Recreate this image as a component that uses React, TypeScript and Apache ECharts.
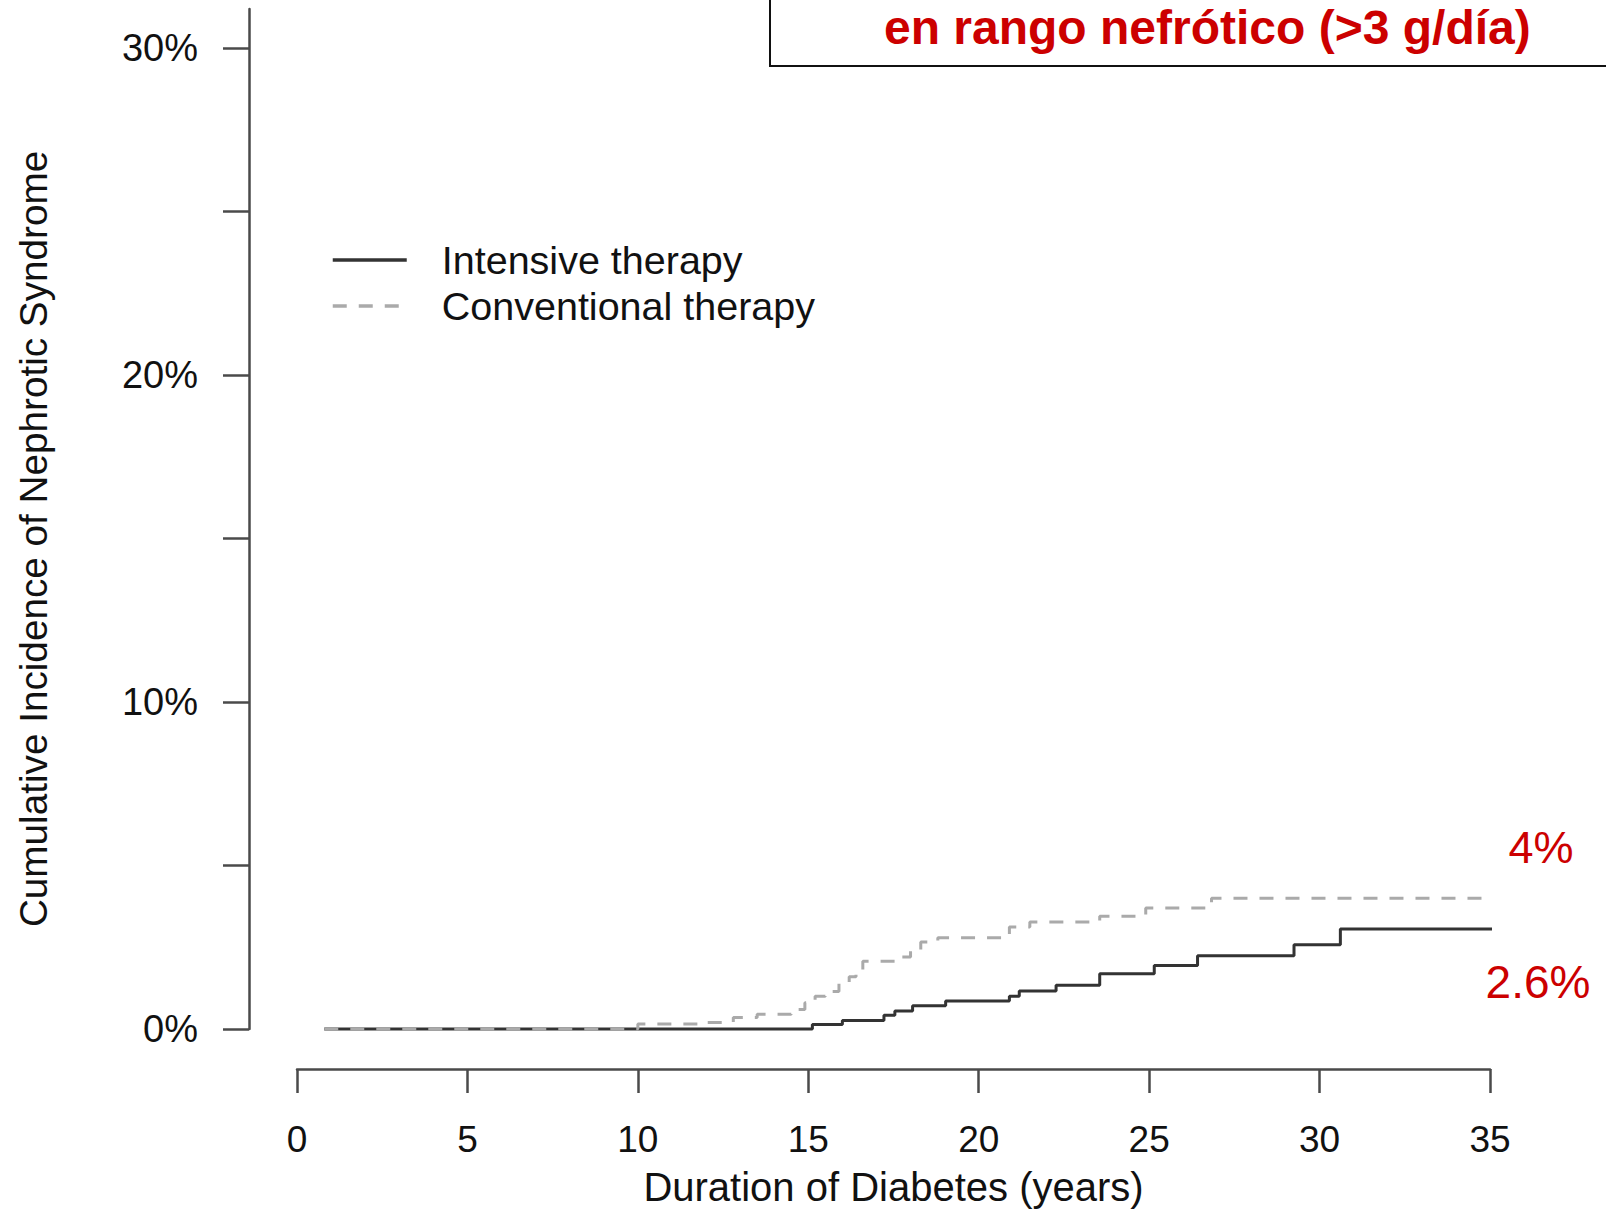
import React, { useEffect, useRef } from "react";
import * as echarts from "echarts";

const titleText = "en rango nefrótico (>3 g/día)";
const seriesNames = ["Intensive therapy", "Conventional therapy"];
const xAxisTitle = "Duration of Diabetes (years)";
const yAxisTitle = "Cumulative Incidence of Nephrotic Syndrome";
const yTickValues = [0, 5, 10, 15, 20, 25, 30];
const yLabelValues = [0, 10, 20, 30];
const endLabels = ["2.6%", "4%"];

const intensiveYears = [0.8, 15.12, 16.0, 17.22, 17.54, 18.06, 19.03, 20.9, 21.19, 22.27, 23.55, 25.15, 26.42, 29.25, 30.61, 36.4];
const intensivePct = [0, 0.14, 0.26, 0.42, 0.55, 0.71, 0.86, 1.0, 1.16, 1.34, 1.69, 1.94, 2.24, 2.58, 3.06, 3.06];

const conventionalYears = [0.8, 10.0, 12.0, 12.8, 13.5, 14.5, 14.9, 15.2, 15.5, 15.9, 16.2, 16.4, 16.6, 17.6, 18.0, 18.3, 18.8, 20.9, 21.5, 23.55, 24.9, 26.83, 36.3];
const conventionalPct = [0, 0.15, 0.2, 0.35, 0.45, 0.6, 0.8, 1.0, 1.15, 1.42, 1.6, 1.8, 2.07, 2.2, 2.4, 2.66, 2.79, 3.12, 3.27, 3.45, 3.7, 4.0, 4.0];

const FONT = "'Liberation Sans', Arial, sans-serif";
const RED = "#cc0000";
const AXIS = "#4a4a4a";

export default function App() {
  const ref = useRef<HTMLDivElement>(null);
  useEffect(() => {
    if (!ref.current) return;
    const chart = echarts.init(ref.current, null, { renderer: "svg" });
    const intensive = intensiveYears.map((x, i) => [x, intensivePct[i]]);
    const conventional = conventionalYears.map((x, i) => [x, conventionalPct[i]]);
    const lastI = intensive[intensive.length - 1][1];
    const lastC = conventional[conventional.length - 1][1];
    const legendBase = {
      left: 331,
      padding: 0,
      orient: "vertical",
      itemWidth: 74,
      itemHeight: 14,
      itemStyle: { opacity: 0 },
      lineStyle: { width: 3.5 },
      textStyle: { fontFamily: FONT, fontSize: 39.5, color: "#111", padding: [0, 0, 0, 30] },
    };
    chart.setOption({
      animation: false,
      backgroundColor: "#ffffff",
      title: {
        text: titleText,
        left: 884,
        top: 3,
        padding: 0,
        textStyle: { fontFamily: FONT, fontSize: 48, fontWeight: "bold", color: RED },
      },
      graphic: [
        {
          type: "rect",
          shape: { x: 770, y: -10, width: 900, height: 76 },
          style: { fill: "none", stroke: "#111", lineWidth: 2 },
          z: -1,
        },
      ],
      legend: [
        { ...legendBase, data: [seriesNames[0]], top: 240 },
        { ...legendBase, data: [seriesNames[1]], top: 286 },
      ],
      grid: { left: 297, right: 116, top: 8.9, bottom: 181.6, containLabel: false },
      xAxis: {
        type: "value",
        min: 0,
        max: 35,
        interval: 5,
        offset: 40,
        name: xAxisTitle,
        nameLocation: "middle",
        nameGap: 98,
        nameTextStyle: { fontFamily: FONT, fontSize: 40, color: "#111" },
        axisLine: { show: true, onZero: false, lineStyle: { color: AXIS, width: 2.5 } },
        axisTick: { show: true, length: 24, lineStyle: { color: AXIS, width: 2.5 } },
        axisLabel: { fontFamily: FONT, fontSize: 37, color: "#111", margin: 52 },
        splitLine: { show: false },
      },
      yAxis: {
        type: "value",
        min: 0,
        max: 31.2,
        offset: 48,
        name: yAxisTitle,
        nameLocation: "middle",
        nameGap: 196,
        nameRotate: 90,
        nameTextStyle: { fontFamily: FONT, fontSize: 38.7, color: "#111", padding: [0, 40, 0, 0] },
        axisLine: { show: true, onZero: false, lineStyle: { color: AXIS, width: 2.5 } },
        axisTick: { show: true, length: 26, customValues: yTickValues, lineStyle: { color: AXIS, width: 2.5 } },
        axisLabel: {
          fontFamily: FONT,
          fontSize: 38,
          color: "#111",
          margin: 51,
          customValues: yLabelValues,
          formatter: "{value}%",
        },
        splitLine: { show: false },
      },
      series: [
        {
          name: seriesNames[0],
          type: "line",
          step: "end",
          data: intensive,
          symbol: "none",
          clip: false,
          lineStyle: { color: "#333", width: 3 },
          itemStyle: { color: "#333" },
          markPoint: {
            symbol: "circle",
            symbolSize: 1,
            itemStyle: { color: "rgba(0,0,0,0)" },
            label: {
              show: true,
              formatter: endLabels[0],
              offset: [48, 53],
              fontFamily: FONT,
              fontSize: 46,
              color: RED,
            },
            data: [{ coord: [35, lastI] }],
          },
        },
        {
          name: seriesNames[1],
          type: "line",
          step: "end",
          data: conventional,
          symbol: "none",
          clip: false,
          lineStyle: { color: "#aaaaaa", width: 3, type: [14, 12] },
          itemStyle: { color: "#aaaaaa" },
          markPoint: {
            symbol: "circle",
            symbolSize: 1,
            itemStyle: { color: "rgba(0,0,0,0)" },
            label: {
              show: true,
              formatter: endLabels[1],
              offset: [51, -51],
              fontFamily: FONT,
              fontSize: 45,
              color: RED,
            },
            data: [{ coord: [35, lastC] }],
          },
        },
      ],
    });
    return () => chart.dispose();
  }, []);
  return (
    <div
      ref={ref}
      style={{ position: "fixed", left: 0, top: 0, width: 1606, height: 1212, background: "#fff" }}
    />
  );
}
